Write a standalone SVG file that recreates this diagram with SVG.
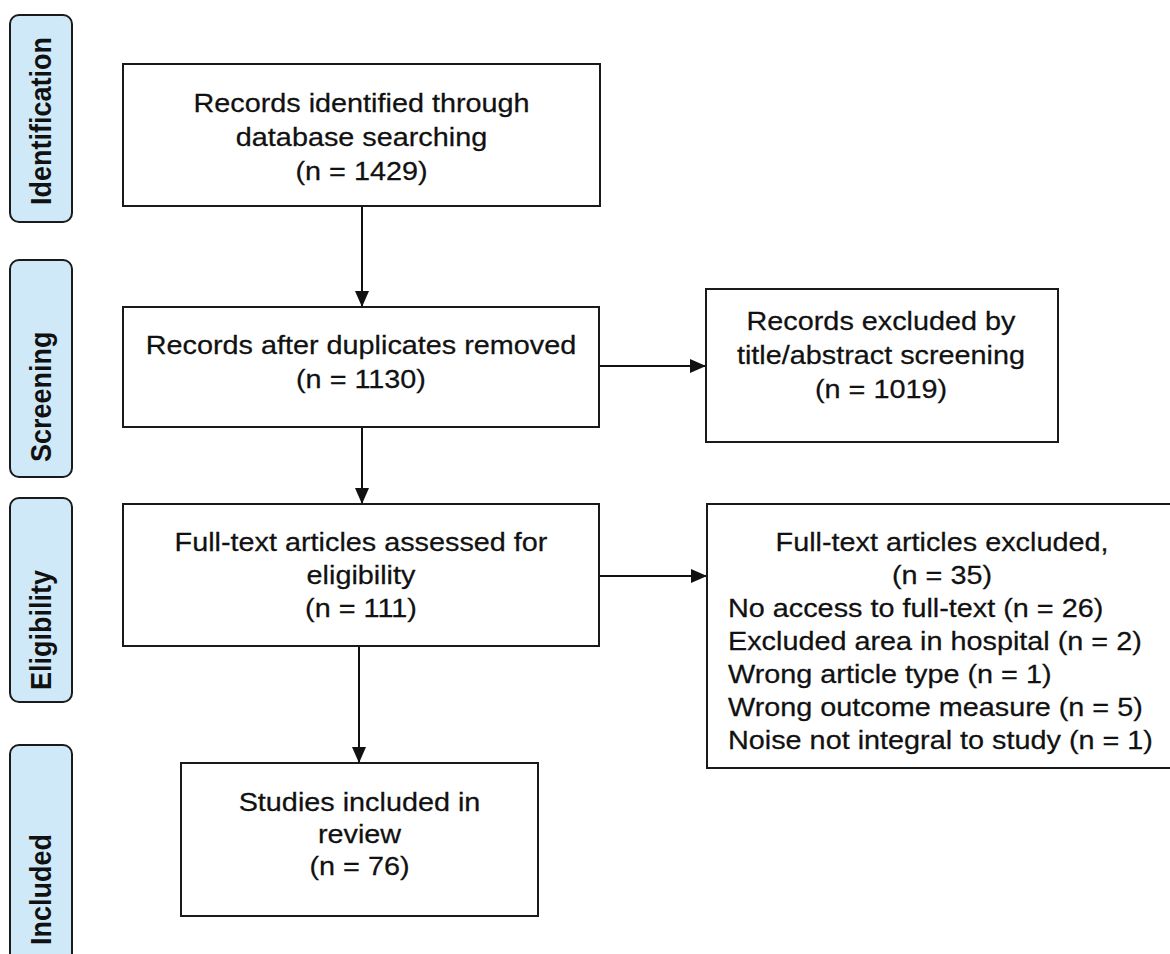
<svg xmlns="http://www.w3.org/2000/svg" width="1170" height="954" viewBox="0 0 1170 954">
<defs>
<style>
.box{fill:#ffffff;stroke:#1a1a1a;stroke-width:2}
.lab{fill:#cfe9f9;stroke:#1a1a1a;stroke-width:2}
.t{font-family:"Liberation Sans",Arial,Helvetica,sans-serif;font-size:25.5px;fill:#111;stroke:#111;stroke-width:0.25}
.lt{font-family:"Liberation Sans",Arial,Helvetica,sans-serif;font-size:27px;font-weight:bold;fill:#111}
.c{fill:none;stroke:#111;stroke-width:2}
</style>
<marker id="ah" markerUnits="userSpaceOnUse" markerWidth="16" markerHeight="14" refX="16" refY="7" orient="auto">
<path d="M0,0 L16,7 L0,14 z" fill="#111"/>
</marker>
</defs>
<rect width="1170" height="954" fill="#ffffff"/>
<g id="label-identification">
<rect class="lab" x="10" y="15" width="62" height="207" rx="9"/>
<text class="lt" transform="translate(51,205) scale(1.1,1) rotate(-90)">Identification</text>
</g>
<g id="label-screening">
<rect class="lab" x="10" y="260" width="62" height="217" rx="9"/>
<text class="lt" transform="translate(51,462) scale(1.1,1) rotate(-90)">Screening</text>
</g>
<g id="label-eligibility">
<rect class="lab" x="10" y="498" width="62" height="204" rx="9"/>
<text class="lt" transform="translate(51,690) scale(1.1,1) rotate(-90)">Eligibility</text>
</g>
<g id="label-included">
<rect class="lab" x="10" y="745" width="62" height="230" rx="9"/>
<text class="lt" transform="translate(51,945) scale(1.1,1) rotate(-90)">Included</text>
</g>
<g id="connectors">
<path class="c" d="M362,206 L362,307" marker-end="url(#ah)"/>
<path class="c" d="M362,427 L362,504" marker-end="url(#ah)"/>
<path class="c" d="M599,366 L706,366" marker-end="url(#ah)"/>
<path class="c" d="M599,576 L707,576" marker-end="url(#ah)"/>
<path class="c" d="M359,646 L359,763" marker-end="url(#ah)"/>
</g>
<g id="node-identified">
<rect class="box" x="123" y="64" width="477" height="142"/>
<text class="t" text-anchor="middle" transform="translate(361.5,112) scale(1.13,1)"><tspan x="0" y="0">Records identified through</tspan><tspan x="0" y="34">database searching</tspan><tspan x="0" y="68">(n = 1429)</tspan></text>
</g>
<g id="node-duplicates">
<rect class="box" x="123" y="307" width="476" height="120"/>
<text class="t" text-anchor="middle" transform="translate(361,354) scale(1.13,1)"><tspan x="0" y="0">Records after duplicates removed</tspan><tspan x="0" y="34">(n = 1130)</tspan></text>
</g>
<g id="node-excluded-title">
<rect class="box" x="706" y="289" width="352" height="153"/>
<text class="t" text-anchor="middle" transform="translate(881,330) scale(1.13,1)"><tspan x="0" y="0">Records excluded by</tspan><tspan x="0" y="34">title/abstract screening</tspan><tspan x="0" y="68">(n = 1019)</tspan></text>
</g>
<g id="node-fulltext">
<rect class="box" x="123" y="504" width="476" height="142"/>
<text class="t" text-anchor="middle" transform="translate(361,551) scale(1.13,1)"><tspan x="0" y="0">Full-text articles assessed for</tspan><tspan x="0" y="33">eligibility</tspan><tspan x="0" y="66">(n = 111)</tspan></text>
</g>
<g id="node-fulltext-excluded">
<rect class="box" x="707" y="504" width="470" height="264"/>
<text class="t" text-anchor="middle" transform="translate(942,551) scale(1.13,1)"><tspan x="0" y="0">Full-text articles excluded,</tspan><tspan x="0" y="33">(n = 35)</tspan></text>
<text class="t" transform="translate(728,617) scale(1.13,1)"><tspan x="0" y="0">No access to full-text (n = 26)</tspan><tspan x="0" y="33">Excluded area in hospital (n = 2)</tspan><tspan x="0" y="66">Wrong article type (n = 1)</tspan><tspan x="0" y="99">Wrong outcome measure (n = 5)</tspan><tspan x="0" y="132">Noise not integral to study (n = 1)</tspan></text>
</g>
<g id="node-included">
<rect class="box" x="181" y="763" width="357" height="153"/>
<text class="t" text-anchor="middle" transform="translate(359.5,811) scale(1.13,1)"><tspan x="0" y="0">Studies included in</tspan><tspan x="0" y="32">review</tspan><tspan x="0" y="64">(n = 76)</tspan></text>
</g>
</svg>
